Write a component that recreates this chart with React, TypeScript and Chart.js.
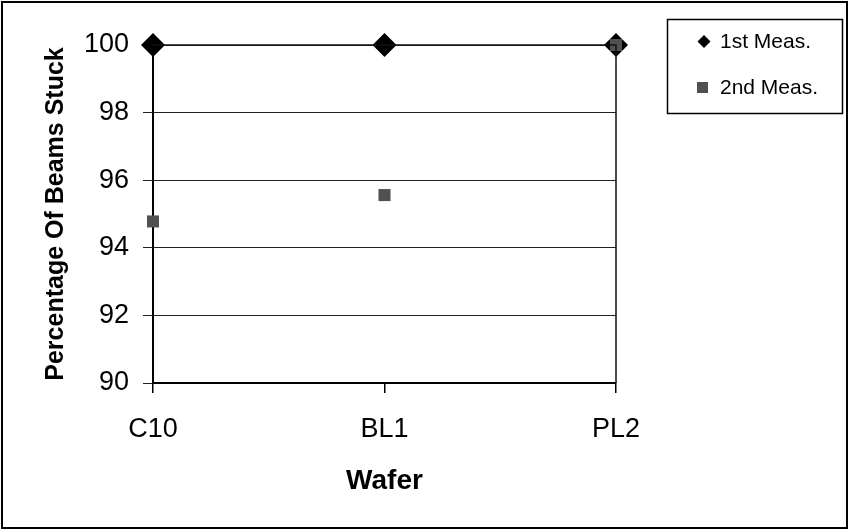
import React, { useEffect, useRef } from "react";
import { Chart, registerables } from "chart.js";

Chart.register(...registerables);

const categories = ["C10", "BL1", "PL2"];
const firstMeas = [100, 100, 100];
const secondMeas = [94.78, 95.56, 100];
const seriesNames = ["1st Meas.", "2nd Meas."];
const yMin = 90;
const yMax = 100;
const yStep = 2;

const FONT = "'Liberation Sans', Arial, sans-serif";

const framePlugin = {
  id: "frame",
  afterDraw(chart: any) {
    const { ctx, chartArea } = chart;
    ctx.save();
    // plot area border
    ctx.strokeStyle = "#111";
    ctx.lineWidth = 1.5;
    ctx.beginPath();
    ctx.moveTo(chartArea.left, chartArea.top);
    ctx.lineTo(chartArea.right, chartArea.top);
    ctx.lineTo(chartArea.right, chartArea.bottom);
    ctx.stroke();
    // outer border
    ctx.lineWidth = 2;
    ctx.strokeStyle = "#000";
    ctx.strokeRect(2, 2, 845, 526);
    // legend box
    ctx.lineWidth = 1.5;
    ctx.strokeRect(667.5, 19.5, 175, 94);
    // legend items
    ctx.fillStyle = "#000";
    ctx.beginPath();
    ctx.moveTo(704 - 6.5, 41.5);
    ctx.lineTo(704, 41.5 - 6.5);
    ctx.lineTo(704 + 6.5, 41.5);
    ctx.lineTo(704, 41.5 + 6.5);
    ctx.closePath();
    ctx.fill();
    ctx.fillStyle = "#505050";
    ctx.fillRect(697, 82, 11, 11);
    ctx.fillStyle = "#000";
    ctx.font = `21px ${FONT}`;
    ctx.textBaseline = "middle";
    ctx.textAlign = "left";
    ctx.fillText(seriesNames[0], 720, 42);
    ctx.fillText(seriesNames[1], 720, 88);
    ctx.restore();
  },
};

export default function App() {
  const ref = useRef<HTMLCanvasElement>(null);
  useEffect(() => {
    const canvas = ref.current!;
    const chart = new Chart(canvas, {
      type: "line",
      data: {
        labels: categories,
        datasets: [
          {
            label: seriesNames[0],
            data: firstMeas,
            showLine: false,
            pointStyle: "rectRot",
            pointRadius: 12,
            pointBackgroundColor: "#000",
            pointBorderColor: "#000",
            pointBorderWidth: 0,
            borderColor: "#000",
            backgroundColor: "#000",
            clip: false as any,
            order: 1,
          },
          {
            label: seriesNames[1],
            data: secondMeas,
            showLine: false,
            pointStyle: "rect",
            pointRadius: 8.5,
            pointBackgroundColor: "#505050",
            pointBorderColor: "#505050",
            pointBorderWidth: 0,
            borderColor: "#505050",
            backgroundColor: "#505050",
            clip: false as any,
            order: 0,
          },
        ],
      },
      options: {
        responsive: false,
        animation: false,
        events: [],
        layout: { padding: { left: 0, top: 45, right: 234, bottom: 0 } },
        plugins: { legend: { display: false }, tooltip: { enabled: false } },
        scales: {
          x: {
            type: "category",
            offset: false,
            grid: {
              drawOnChartArea: false,
              drawTicks: true,
              tickLength: 10,
              color: "#000",
              lineWidth: 1.5,
            },
            border: { display: true, color: "#000", width: 2 },
            ticks: {
              color: "#000",
              font: { family: FONT, size: 27 },
              padding: 20,
              maxRotation: 0,
              autoSkip: false,
            },
            title: {
              display: true,
              text: "Wafer",
              color: "#000",
              font: { family: FONT, size: 28, weight: "bold" },
              padding: { top: 0, bottom: 33 },
            },
            afterFit(scale: any) {
              scale.height = 148;
            },
          },
          y: {
            min: yMin,
            max: yMax,
            grid: {
              color: "#222",
              lineWidth: 1,
              tickLength: 10,
              drawTicks: true,
            },
            border: { display: true, color: "#000", width: 2 },
            ticks: {
              stepSize: yStep,
              color: "#000",
              font: { family: FONT, size: 27 },
              padding: 14,
            },
            title: {
              display: true,
              text: "Percentage Of Beams Stuck",
              color: "#000",
              font: { family: FONT, size: 25, weight: "bold" },
              padding: { top: 41, bottom: 0 },
            },
            afterFit(scale: any) {
              scale.width = 153;
            },
          },
        },
      },
      plugins: [framePlugin],
    });
    return () => chart.destroy();
  }, []);
  return (
    <div style={{ position: "absolute", left: 0, top: 0, width: 850, height: 531, background: "#fff" }}>
      <canvas ref={ref} width={850} height={531} />
    </div>
  );
}
